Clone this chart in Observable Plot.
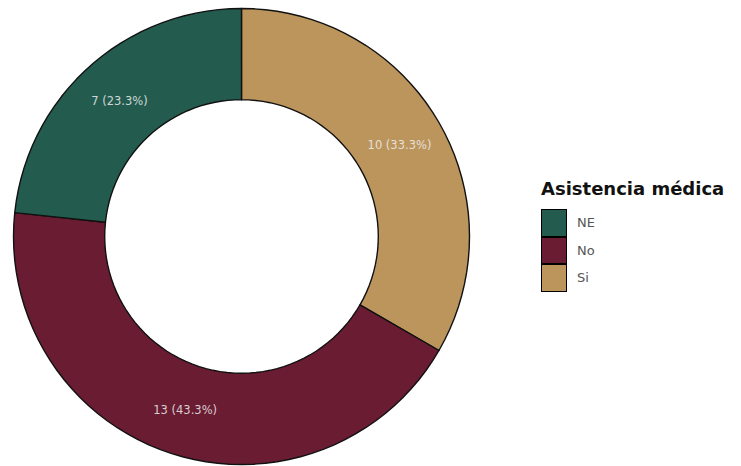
<!DOCTYPE html>
<html>
<head>
<meta charset="utf-8">
<script src="https://cdn.jsdelivr.net/npm/d3@7"></script>
<script src="https://cdn.jsdelivr.net/npm/@observablehq/plot@0.6"></script>
<style>
  body { margin: 0; background: #fff; font-family: "DejaVu Sans", sans-serif; }
  #wrap { position: relative; width: 741px; height: 466px; overflow: hidden; }
  #legend { position: absolute; left: 541px; top: 178px; }
  #legend .title { font: bold 18px "DejaVu Sans", sans-serif; color: #111; margin-bottom: 10px; white-space: nowrap; }
  #legend .row { display: flex; align-items: center; height: 27.5px; }
  #legend .sw { width: 24px; height: 25.5px; border: 1.2px solid #000; box-sizing: content-box; }
  #legend .lab { margin-left: 10px; font: 13px "DejaVu Sans", sans-serif; color: #555; }
</style>
</head>
<body>
<div id="wrap"></div>
<script>
// Data
const categories = ["NE", "No", "Si"];
const values = [7, 13, 10];
const colors = ["#235B4E", "#691C32", "#BC955C"];
const legendTitle = "Asistencia médica";
// clockwise order from 12 o'clock
const drawOrder = ["Si", "No", "NE"];

const total = d3.sum(values);
const rows = categories.map((c, i) => ({cat: c, value: values[i]}));
const ordered = drawOrder.map(c => rows.find(r => r.cat === c));

const pie = d3.pie().sort(null).value(d => d.value);
const arcs = pie(ordered);

const R0 = 0.6, R1 = 1;
const N = 120;
const poly = [];
for (const a of arcs) {
  const n = Math.max(4, Math.ceil(N * (a.endAngle - a.startAngle) / (2 * Math.PI)));
  for (let k = 0; k <= n; k++) {
    const t = a.startAngle + (a.endAngle - a.startAngle) * k / n;
    poly.push({cat: a.data.cat, x: R1 * Math.sin(t), y: R1 * Math.cos(t)});
  }
  for (let k = n; k >= 0; k--) {
    const t = a.startAngle + (a.endAngle - a.startAngle) * k / n;
    poly.push({cat: a.data.cat, x: R0 * Math.sin(t), y: R0 * Math.cos(t)});
  }
}
const labels = arcs.map(a => {
  const m = (a.startAngle + a.endAngle) / 2, r = (R0 + R1) / 2;
  return {
    cat: a.data.cat,
    x: r * Math.sin(m), y: r * Math.cos(m),
    text: `${a.data.value} (${(100 * a.data.value / total).toFixed(1)}%)`
  };
});

const chart = Plot.plot({
  width: 741,
  height: 466,
  marginLeft: 13,
  marginRight: 272,
  marginTop: 8,
  marginBottom: 2,
  x: {domain: [-1, 1], axis: null},
  y: {domain: [-1, 1], axis: null},
  color: {domain: categories, range: colors},
  style: {fontFamily: "DejaVu Sans, sans-serif", background: "white"},
  marks: [
    Plot.line(poly, {x: "x", y: "y", z: "cat", fill: "cat", stroke: "#111", strokeWidth: 1.4, curve: "linear-closed"}),
    Plot.text(labels, {x: "x", y: "y", text: "text", fill: "#eeeeee", fillOpacity: 0.85, fontSize: 11.5})
  ]
});
const wrap = document.getElementById("wrap");
wrap.appendChild(chart);

const leg = document.createElement("div");
leg.id = "legend";
const title = document.createElement("div");
title.className = "title";
title.textContent = legendTitle;
leg.appendChild(title);
categories.forEach((c, i) => {
  const row = document.createElement("div");
  row.className = "row";
  const sw = document.createElement("div");
  sw.className = "sw";
  sw.style.background = chart.scale("color").apply(c);
  const lab = document.createElement("div");
  lab.className = "lab";
  lab.textContent = c;
  row.appendChild(sw); row.appendChild(lab);
  leg.appendChild(row);
});
wrap.appendChild(leg);
</script>
</body>
</html>
